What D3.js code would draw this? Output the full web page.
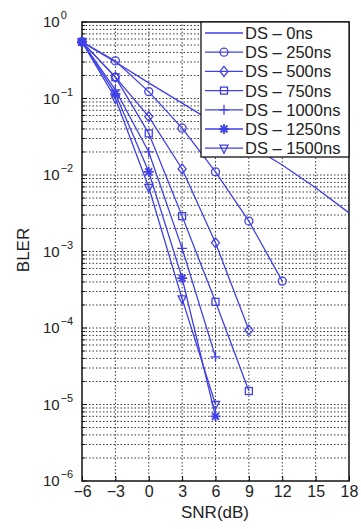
<!DOCTYPE html>
<html>
<head>
<meta charset="utf-8">
<script src="https://cdn.jsdelivr.net/npm/d3@7"></script>
<style>
  body { margin: 0; background: #fff; }
  text { font-family: "Liberation Sans", Arial, sans-serif; fill: #222; }
</style>
</head>
<body>
<div id="chart"></div>
<script>
// SNR points (dB) shared by every curve
const snr = [-6, -3, 0, 3, 6, 9, 12, 15, 18];

// BLER per delay spread
const ds0    = [0.55, 0.30, 0.16, 0.087, 0.047, 0.025, 0.0135, 0.0068, 0.0032];
const ds250  = [0.55, 0.31, 0.123, 0.041, 0.011, 0.0025, 0.00041];
const ds500  = [0.55, 0.19, 0.058, 0.012, 0.0013, 0.000094];
const ds750  = [0.55, 0.19, 0.035, 0.0029, 0.00022, 0.000015];
const ds1000 = [0.55, 0.13, 0.020, 0.0011, 0.000042];
const ds1250 = [0.55, 0.115, 0.011, 0.00045, 0.000007];
const ds1500 = [0.55, 0.10, 0.0069, 0.00024, 0.00001];

const seriesNames = ['DS \u2013 0ns', 'DS \u2013 250ns', 'DS \u2013 500ns', 'DS \u2013 750ns',
                     'DS \u2013 1000ns', 'DS \u2013 1250ns', 'DS \u2013 1500ns'];
const markers = ['none', 'circle', 'diamond', 'square', 'plus', 'star', 'triangle'];
const xTicks = [-6, -3, 0, 3, 6, 9, 12, 15, 18];
const yExponents = [0, -1, -2, -3, -4, -5, -6];

const allSeries = [ds0, ds250, ds500, ds750, ds1000, ds1250, ds1500];

const width = 361, height = 529;
const margin = {top: 22, right: 12, bottom: 48, left: 82};
const color = '#4040e6';

const svg = d3.select('#chart').append('svg')
    .attr('width', width)
    .attr('height', height);

const x = d3.scaleLinear().domain([-6, 18]).range([margin.left, width - margin.right]);
const y = d3.scaleLog().domain([1e-6, 1]).range([height - margin.bottom, margin.top]);

// grid: decades + minor lines, and one vertical line per 3 dB tick
const minorVals = [];
for (let e = -6; e < 0; e++) {
    for (let m = 2; m <= 9; m++) minorVals.push(m * Math.pow(10, e));
}
const grid = svg.append('g').attr('stroke', '#222').attr('stroke-width', 0.9)
    .attr('stroke-dasharray', '1.5,2');
grid.selectAll('.hmin').data(minorVals).join('line')
    .attr('x1', x(-6)).attr('x2', x(18))
    .attr('y1', d => y(d)).attr('y2', d => y(d));
grid.selectAll('.hmaj').data(yExponents.slice(1, -1)).join('line')
    .attr('x1', x(-6)).attr('x2', x(18))
    .attr('y1', d => y(Math.pow(10, d))).attr('y2', d => y(Math.pow(10, d)));
grid.selectAll('.v').data(xTicks.slice(1, -1)).join('line')
    .attr('x1', d => x(d)).attr('x2', d => x(d))
    .attr('y1', y(1e-6)).attr('y2', y(1));

// axes (ticks pointing inwards, like matlab)
const xAxis = d3.axisBottom(x).tickValues(xTicks).tickSizeInner(-5).tickSizeOuter(0)
    .tickPadding(5).tickFormat(d => d < 0 ? '\u2212' + Math.abs(d) : d);
svg.append('g').attr('transform', `translate(0,${y(1e-6)})`).call(xAxis)
    .call(g => g.select('.domain').remove())
    .call(g => g.selectAll('text').attr('font-size', 16).attr('fill', '#222')
        .attr('font-family', '"Liberation Sans", Arial, sans-serif'));

// y ticks inside, major + minor
const yt = svg.append('g').attr('stroke', '#111');
yt.selectAll('.maj').data(yExponents).join('line')
    .attr('x1', x(-6)).attr('x2', x(-6) + 5)
    .attr('y1', d => y(Math.pow(10, d))).attr('y2', d => y(Math.pow(10, d)));
yt.selectAll('.min').data(minorVals).join('line')
    .attr('x1', x(-6)).attr('x2', x(-6) + 3)
    .attr('y1', d => y(d)).attr('y2', d => y(d));

const yLab = svg.append('g').selectAll('text').data(yExponents).join('text')
    .attr('x', 43).attr('y', d => y(Math.pow(10, d)) + 5)
    .attr('font-size', 15);
yLab.append('tspan').text('10');
yLab.append('tspan').attr('dy', -8).attr('dx', 1).attr('font-size', 11)
    .text(d => d === 0 ? '0' : '\u2212' + Math.abs(d));

// frame
svg.append('rect')
    .attr('x', x(-6)).attr('y', y(1))
    .attr('width', x(18) - x(-6)).attr('height', y(1e-6) - y(1))
    .attr('fill', 'none').attr('stroke', '#111').attr('stroke-width', 1.5);

// axis titles
svg.append('text').attr('x', 215).attr('y', 518).attr('text-anchor', 'middle')
    .attr('font-size', 17).text('SNR(dB)');
svg.append('text').attr('transform', 'translate(29,250) rotate(-90)')
    .attr('text-anchor', 'middle').attr('font-size', 17).text('BLER');

// marker drawing
function drawMarker(g, kind) {
    const s = 4;
    if (kind === 'circle') {
        g.append('circle').attr('r', s);
    } else if (kind === 'diamond') {
        g.append('path').attr('d', `M0,${-s - 1}L${s},0L0,${s + 1}L${-s},0Z`);
    } else if (kind === 'square') {
        g.append('rect').attr('x', -3.5).attr('y', -3.5).attr('width', 7).attr('height', 7);
    } else if (kind === 'plus') {
        g.append('path').attr('d', `M${-s - 1},0H${s + 1}M0,${-s - 1}V${s + 1}`);
    } else if (kind === 'star') {
        g.append('path').attr('d', `M${-s - 1},0H${s + 1}M0,${-s - 1}V${s + 1}M-3.5,-3.5L3.5,3.5M-3.5,3.5L3.5,-3.5`)
            .attr('stroke-width', 1.8);
    } else if (kind === 'triangle') {
        g.append('path').attr('d', `M${-s},${-s + 1}L${s},${-s + 1}L0,${s + 1}Z`);
    }
}

const line = d3.line().x(d => x(d[0])).y(d => y(d[1]));
const plot = svg.append('g');
allSeries.forEach((vals, i) => {
    const pts = vals.map((v, j) => [snr[j], v]);
    plot.append('path').datum(pts).attr('d', line)
        .attr('fill', 'none').attr('stroke', color).attr('stroke-width', 1.3);
    if (markers[i] !== 'none') {
        pts.forEach(p => {
            const g = plot.append('g')
                .attr('transform', `translate(${x(p[0])},${y(p[1])})`)
                .attr('fill', 'none').attr('stroke', color).attr('stroke-width', 1.3);
            drawMarker(g, markers[i]);
        });
    }
});

// legend
const legX = 201, legY = 22, legW = x(18) - 201, legH = 135;
svg.append('rect').attr('x', legX).attr('y', legY).attr('width', legW).attr('height', legH)
    .attr('fill', '#fff').attr('stroke', '#111').attr('stroke-width', 1.3);
seriesNames.forEach((name, i) => {
    const cy = 33 + i * 19.2;
    svg.append('line').attr('x1', 205).attr('x2', 243).attr('y1', cy).attr('y2', cy)
        .attr('stroke', color).attr('stroke-width', 1.3);
    if (markers[i] !== 'none') {
        const g = svg.append('g').attr('transform', `translate(224,${cy})`)
            .attr('fill', 'none').attr('stroke', color).attr('stroke-width', 1.3);
        drawMarker(g, markers[i]);
    }
    svg.append('text').attr('x', 245).attr('y', cy + 6).attr('font-size', 16.5).text(name);
});
</script>
</body>
</html>
